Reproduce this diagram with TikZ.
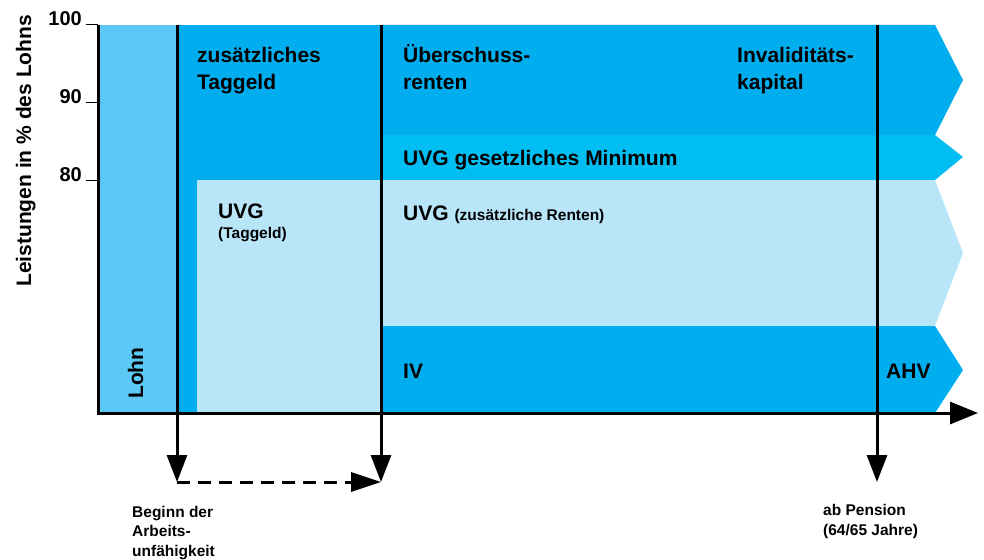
\documentclass[tikz,border=0pt]{standalone}
\usepackage{fontspec}
\setmainfont{Liberation Sans}
\usepackage{xcolor}
\usetikzlibrary{arrows.meta}

\definecolor{lohnblau}{RGB}{91,200,245}
\definecolor{dunkelblau}{RGB}{0,174,239}
\definecolor{mittelblau}{RGB}{0,190,242}
\definecolor{hellblau}{RGB}{185,229,249}

\begin{document}
\begin{tikzpicture}[x=1pt, y=-1pt,
    gross/.style={font=\fontsize{21}{27}\selectfont\bfseries, inner sep=0pt, align=left},
    klein/.style={font=\fontsize{15.5}{19.5}\selectfont\bfseries, inner sep=0pt, align=left},
    achse/.style={line width=3pt},
    marke/.style={line width=3pt, -{Triangle[length=27pt,width=20pt]}}]

\useasboundingbox (0,0) rectangle (984,559);

% Flaechen
\fill[lohnblau] (98,25) rectangle (177,413);
\fill[dunkelblau] (177,25) rectangle (381,413);
\fill[hellblau] (197,180) rectangle (381,413);
\fill[dunkelblau] (381,25) -- (935,25) -- (963,80) -- (935,135) -- (381,135) -- cycle;
\fill[mittelblau] (381,135) -- (935,135) -- (963,157) -- (935,180) -- (381,180) -- cycle;
\fill[hellblau] (381,180) -- (935,180) -- (963,253) -- (935,326) -- (381,326) -- cycle;
\fill[dunkelblau] (381,326) -- (935,326) -- (963,370) -- (935,413) -- (381,413) -- cycle;

% Achsen
\coordinate (ytop) at (98,25);
\coordinate (null) at (98,413);
\coordinate (xend) at (978,413);
\draw[achse, -{Triangle[length=28pt,width=22pt]}] (ytop) -- (null) -- (xend);
\foreach \y/\v in {25/100,103/90,180/80}{
  \coordinate (tick\v) at (98,\y);
  \draw[line width=1pt] (tick\v) -- ++(-12,0);
  \node[font=\fontsize{20}{24}\selectfont\bfseries, inner sep=0pt, anchor=base east] (lab\v) at (82,\y+1) {\v};
}
\node[gross, rotate=90, anchor=base west] (ylabel) at (31,287) {Leistungen in \% des Lohns};

% Zeitpunkte
\coordinate (s1) at (177,25);
\coordinate (e1) at (177,482);
\coordinate (s2) at (381,25);
\coordinate (e2) at (381,482);
\coordinate (s3) at (877,25);
\coordinate (e3) at (877,482);
\draw[marke] (s1) -- (e1);
\draw[marke] (s2) -- (e2);
\draw[marke] (s3) -- (e3);
\draw[marke, dash pattern=on 13pt off 8pt, -{Triangle[length=30pt,width=19pt]}] (e1) -- (e2);

% Texte (base = letzte Zeile)
\node[gross, rotate=90, anchor=base west] (lohn) at (143,399) {Lohn};
\node[gross, anchor=base west] (zusatz) at (197,90) {zusätzliches\\Taggeld};
\node[gross, anchor=base west] (uvgtag) at (218,218) {UVG};
\node[klein, anchor=base west] (taggeld) at (218,238) {(Taggeld)};
\node[gross, anchor=base west] (ueber) at (403,90) {Überschuss-\\renten};
\node[gross, anchor=base west] (inval) at (737,90) {Invaliditäts-\\kapital};
\node[gross, anchor=base west] (minimum) at (403,165) {UVG gesetzliches Minimum};
\node[gross, anchor=base west] (uvgrente) at (403,220) {UVG {\fontsize{15.5}{20}\selectfont(zusätzliche Renten)}};
\node[gross, anchor=base west] (iv) at (403,378) {IV};
\node[gross, anchor=base west] (ahv) at (886,378) {AHV};
\node[klein, anchor=base west] (beginn) at (132,556) {Beginn der\\Arbeits-\\unfähigkeit};
\node[klein, anchor=base west] (pension) at (823,535) {ab Pension\\(64/65 Jahre)};

\end{tikzpicture}
\end{document}
